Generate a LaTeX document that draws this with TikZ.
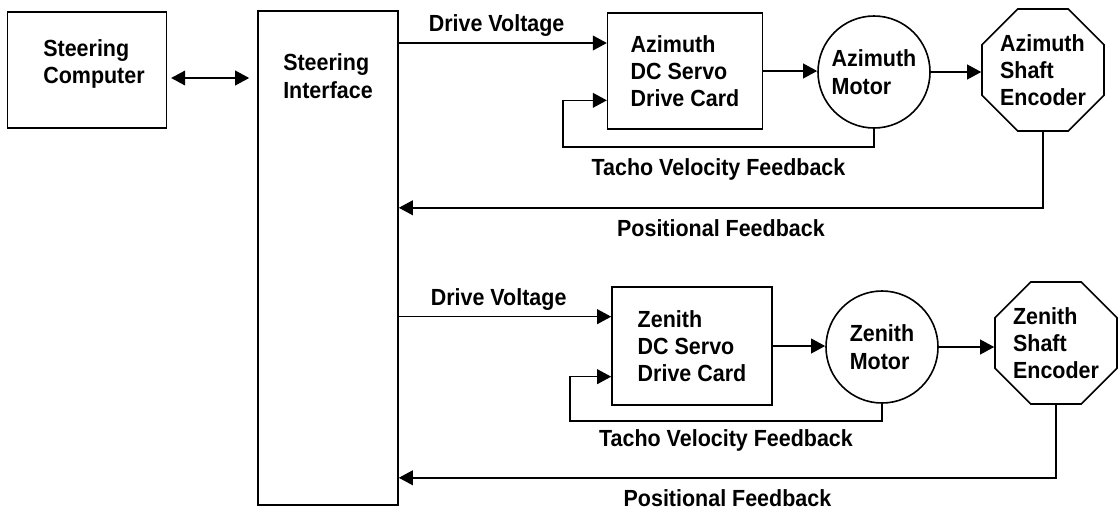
\documentclass[tikz,border=0pt]{standalone}
\usepackage{fontspec}
\setmainfont{Liberation Sans}[FakeStretch=0.92]
\usetikzlibrary{arrows.meta,shapes.geometric}

\begin{document}
\begin{tikzpicture}[x=0.75pt,y=-0.75pt,line width=1.2pt,
    font=\fontsize{17.5}{20.5}\selectfont\bfseries,
    >={Triangle[length=10.5pt,width=11pt]},
    blk/.style={draw,rectangle,align=left,inner sep=0pt},
    motor/.style={draw,circle,align=left,inner sep=0pt,minimum size=84pt},
    enc/.style={draw,regular polygon,regular polygon sides=8,align=left,
      inner sep=0pt,minimum size=99pt},
    lbl/.style={below,yshift=-5pt}]
  \useasboundingbox (0,0) rectangle (1119,511);
  \node[blk,minimum width=119pt,minimum height=87pt] (comp) at (87,70) {};
  \node[align=left] (comptxt) at (94,64) {Steering\\Computer};
  \node[blk,minimum width=105pt,minimum height=370.5pt] (intf) at (328,258) {};
  \node[align=left] (intftxt) at (328,76) {Steering\\Interface};
  \draw[<->,shorten <=3pt,shorten >=6pt] ([yshift=-6pt]comp.east) -- ([yshift=-6pt]comp.east -| intf.west);
  % azimuth axis
  \node[blk,minimum width=116pt,minimum height=87pt] (azcard) at (685,71) {Azimuth\\DC Servo\\Drive Card};
  \node[motor] (azmot) at (874,72) {Azimuth\\Motor};
  \node[enc] (azenc) at (1043,70) {Azimuth\\Shaft\\Encoder};
  \draw[->] (azcard.east) -- (azcard.east -| azmot.west);
  \draw[->] (azmot.east) -- (azmot.east -| azenc.west);
  \coordinate (azdv) at ([yshift=21pt]azcard.west);
  \coordinate (aztin) at ([yshift=-22pt]azcard.west);
  \draw[->] (azdv -| intf.east) -- node[above,pos=0.47,yshift=1pt] {Drive Voltage} (azdv);
  \draw[->] (azmot.south) -- ++(0,18) -- node[lbl] {Tacho Velocity Feedback} ++(-311,0) |- (aztin);
  \draw[->] (azenc.south) -- ++(0,76) coordinate (azpf) -- node[lbl] {Positional Feedback} (azpf -| intf.east);
  % zenith axis
  \node[blk,minimum width=120pt,minimum height=88.5pt] (zncard) at (692,346) {Zenith\\DC Servo\\Drive Card};
  \node[motor] (znmot) at (882,347) {Zenith\\Motor};
  \node[enc] (znenc) at (1056,343) {Zenith\\Shaft\\Encoder};
  \draw[->] (zncard.east) -- (zncard.east -| znmot.west);
  \draw[->] (znmot.east) -- (znmot.east -| znenc.west);
  \coordinate (zndv) at ([yshift=22pt]zncard.west);
  \coordinate (zntin) at ([yshift=-23pt]zncard.west);
  \draw[->] (zndv -| intf.east) -- node[above,pos=0.47,yshift=1pt] {Drive Voltage} (zndv);
  \draw[->] (znmot.south) -- ++(0,17) -- node[lbl,yshift=2pt] {Tacho Velocity Feedback} ++(-312,0) |- (zntin);
  \draw[->] (znenc.south) -- ++(0,73) coordinate (znpf) -- node[lbl] {Positional Feedback} (znpf -| intf.east);
\end{tikzpicture}
\end{document}
